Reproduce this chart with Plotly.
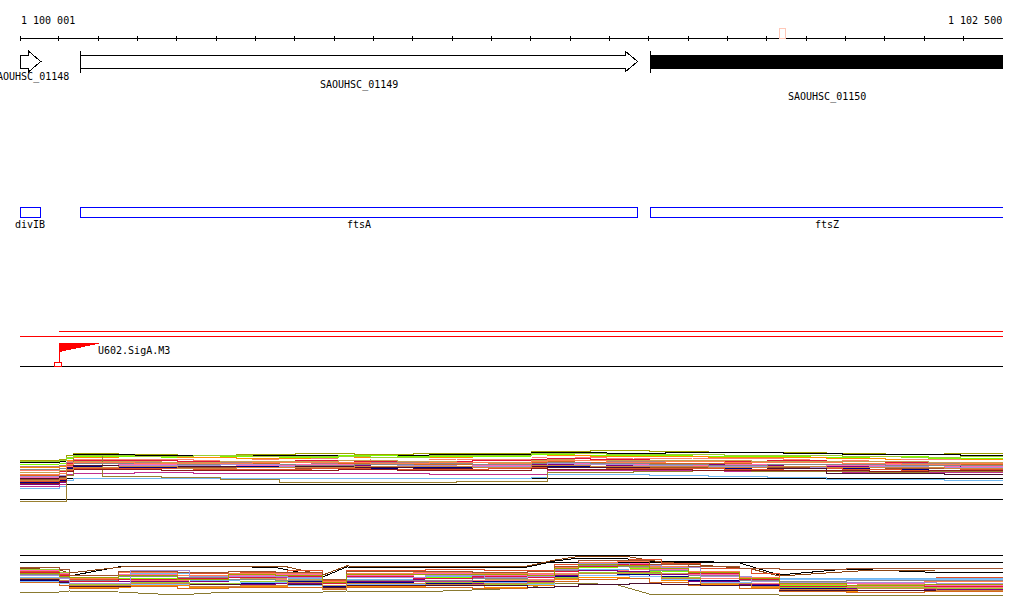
import plotly.graph_objects as go

# ---------------- data ----------------
WINDOW_START = 1100001
WINDOW_END = 1102500
RULER_STEP = 100
RULER_LABELS = ["1 100 001", "1 102 500"]

GENE_NAMES = ["SAOUHSC_01148", "SAOUHSC_01149", "SAOUHSC_01150"]
GENE_STARTS = [1099960, 1100156, 1101603]
GENE_ENDS = [1100054, 1101571, 1103300]

FEATURE_NAMES = ["divIB", "ftsA", "ftsZ"]
FEATURE_STARTS = [1099960, 1100156, 1101603]
FEATURE_ENDS = [1100054, 1101571, 1103300]

PROMOTER_NAME = "U602.SigA.M3"
PROMOTER_POS = 1100101
MARKER_START = 1101933
MARKER_END = 1101948

# expression track 1 (offsets from window start)
T1_POS_A = [0, 100, 118, 135, 250, 400, 550, 700, 850, 1000, 1150, 1300, 1340, 1450, 1600, 1750, 1900, 2050, 2200, 2350, 2499]
T1_POS_B = [0, 100, 118, 135, 290, 440, 590, 740, 890, 1040, 1190, 1300, 1340, 1490, 1640, 1790, 1940, 2090, 2240, 2390, 2499]
T1_POS_C = [0, 100, 118, 135, 210, 360, 510, 660, 810, 960, 1110, 1300, 1340, 1410, 1560, 1710, 1860, 2010, 2160, 2310, 2499]
T1_REF_LEVELS = [5.4, 4.2, 1.2]
T1_VALUES = [
    [9.0, 9.2, 10.0, 10.4, 10.2, 10.0, 10.2, 10.3, 10.2, 10.3, 10.4, 10.8, 10.8, 10.9, 10.7, 10.6, 10.5, 10.3, 10.2, 10.4, 10.4],
    [8.6, 8.8, 9.6, 10.2, 10.0, 10.0, 9.9, 10.0, 10.0, 10.1, 10.2, 10.6, 10.6, 10.4, 10.5, 10.6, 10.4, 10.1, 10.2, 10.0, 10.0],
    [8.2, 8.4, 9.3, 9.8, 9.7, 9.6, 9.8, 9.6, 9.9, 9.7, 9.8, 10.2, 10.1, 10.0, 9.9, 9.8, 9.7, 9.6, 9.8, 9.3, 9.4],
    [7.5, 7.8, 9.0, 9.5, 9.4, 9.5, 9.3, 9.4, 9.6, 9.5, 9.4, 9.8, 9.9, 9.7, 9.8, 9.6, 9.5, 9.4, 9.2, 9.1, 9.1],
    [7.0, 7.4, 8.8, 9.2, 9.1, 9.0, 9.2, 9.3, 9.0, 9.2, 9.1, 9.5, 9.6, 9.4, 9.3, 9.4, 9.2, 9.0, 9.1, 8.9, 8.8],
    [8.0, 8.1, 9.1, 9.3, 9.4, 9.3, 9.0, 9.1, 9.3, 9.0, 9.3, 9.7, 9.6, 9.2, 9.5, 9.2, 9.0, 9.2, 8.9, 9.0, 9.0],
    [6.5, 6.8, 8.4, 9.0, 8.9, 8.7, 8.8, 9.0, 8.7, 8.8, 8.9, 9.2, 9.3, 9.1, 9.0, 8.8, 8.9, 8.7, 8.6, 8.5, 8.6],
    [7.8, 8.0, 8.6, 8.8, 8.6, 8.5, 8.6, 8.4, 8.5, 8.6, 8.4, 8.9, 9.0, 8.8, 8.7, 8.6, 8.5, 8.4, 8.3, 8.2, 8.4],
    [6.0, 6.3, 8.0, 8.6, 8.4, 8.2, 8.3, 8.2, 8.4, 8.1, 8.2, 8.6, 8.7, 8.5, 8.4, 8.3, 8.1, 8.2, 8.0, 8.1, 8.0],
    [5.6, 5.9, 7.8, 8.3, 8.2, 8.4, 8.0, 8.1, 8.2, 8.3, 8.0, 8.4, 8.4, 8.2, 8.0, 8.1, 8.2, 7.9, 8.1, 7.8, 7.7],
    [4.2, 4.6, 7.2, 8.0, 7.9, 7.8, 7.7, 7.9, 7.8, 7.6, 7.8, 8.1, 8.2, 8.0, 8.1, 7.9, 7.8, 7.7, 7.6, 7.9, 7.9],
    [4.6, 5.0, 7.4, 7.7, 7.6, 7.5, 7.8, 7.6, 7.3, 7.5, 7.6, 7.9, 7.8, 7.7, 7.6, 7.4, 7.5, 7.3, 7.2, 7.0, 6.9],
    [5.2, 5.5, 7.6, 8.0, 7.8, 7.6, 7.5, 7.4, 7.6, 7.7, 7.5, 7.8, 7.9, 7.6, 7.5, 7.7, 7.6, 7.5, 7.4, 7.5, 7.4],
    [4.8, 5.2, 7.0, 7.4, 7.3, 7.2, 7.1, 7.3, 7.2, 7.1, 7.3, 7.6, 7.5, 7.4, 7.3, 7.2, 7.3, 7.1, 7.0, 7.2, 7.2],
    [6.6, 7.0, 8.2, 8.7, 8.8, 8.6, 8.7, 8.8, 8.9, 8.7, 8.6, 9.0, 9.1, 9.0, 8.9, 9.0, 8.8, 8.7, 8.8, 8.6, 8.5],
    [3.4, 3.8, 5.0, 5.3, 5.4, 5.4, 5.4, 5.4, 5.4, 5.4, 5.4, 5.5, 6.1, 6.1, 6.0, 5.8, 5.5, 5.1, 5.1, 4.9, 4.9],
    [3.8, 4.2, 6.2, 6.4, 6.5, 6.4, 6.3, 6.4, 6.3, 6.2, 6.1, 6.2, 6.9, 7.0, 7.0, 6.8, 6.8, 6.6, 6.6, 6.6, 6.6],
    [0.8, 0.8, 6.0, 10.0, 5.8, 5.6, 5.2, 4.6, 4.5, 4.6, 4.7, 4.8, 6.6, 6.5, 6.8, 7.0, 6.8, 6.8, 6.6, 6.7, 6.7],
    [7.2, 7.4, 8.2, 8.4, 8.3, 8.1, 8.2, 8.0, 8.1, 8.3, 8.1, 8.4, 8.5, 8.3, 8.2, 8.0, 8.2, 8.1, 7.9, 8.0, 8.0],
    [8.8, 9.0, 9.6, 10.0, 9.8, 9.9, 9.7, 9.8, 9.6, 9.9, 10.0, 10.3, 10.4, 10.2, 10.1, 10.0, 9.9, 9.8, 9.6, 9.7, 9.7],
    [5.8, 6.0, 7.6, 7.9, 8.0, 7.9, 8.1, 7.8, 7.7, 7.9, 7.7, 8.0, 8.3, 8.1, 7.9, 7.8, 7.7, 7.5, 7.7, 7.6, 7.6],
    [5.4, 5.8, 7.5, 7.9, 7.7, 7.8, 7.6, 7.7, 7.5, 7.4, 7.5, 7.7, 7.6, 7.5, 7.7, 7.5, 7.4, 6.4, 6.4, 6.2, 6.3],
    [6.2, 6.4, 8.2, 8.5, 8.4, 8.3, 8.5, 8.6, 8.4, 8.5, 8.4, 8.8, 8.9, 8.6, 8.7, 8.5, 8.6, 8.4, 8.2, 8.4, 8.3],
    [4.4, 4.8, 6.8, 7.2, 7.1, 7.0, 6.9, 7.0, 7.2, 7.0, 6.9, 7.3, 7.2, 7.1, 7.2, 7.0, 6.9, 7.0, 6.8, 6.9, 6.9],
    [5.0, 5.3, 7.1, 7.5, 7.7, 7.4, 7.6, 7.5, 7.7, 7.8, 7.6, 7.9, 8.0, 7.8, 7.8, 7.6, 7.7, 7.6, 7.5, 7.3, 7.3],
]

# expression track 2 (offsets from window start)
T2_POS_A = [0, 100, 125, 250, 400, 530, 650, 770, 830, 1000, 1150, 1290, 1360, 1420, 1520, 1600, 1700, 1830, 1930, 2100, 2300, 2499]
T2_POS_B = [0, 100, 125, 280, 430, 560, 680, 770, 830, 1030, 1180, 1290, 1360, 1420, 1550, 1630, 1730, 1860, 1930, 2130, 2330, 2499]
T2_REF_LEVELS = [10.0, 8.6]
T2_VALUES = [
    [6.8, 6.0, 5.8, 7.6, 7.6, 7.7, 7.5, 5.6, 7.6, 7.5, 7.4, 7.6, 8.8, 9.4, 9.4, 8.8, 8.8, 8.4, 6.0, 7.2, 6.6, 6.6],
    [7.4, 7.0, 6.4, 7.8, 7.8, 7.8, 7.6, 6.0, 7.8, 7.7, 7.6, 7.8, 9.0, 9.7, 9.6, 8.6, 8.0, 7.2, 5.8, 6.8, 7.0, 7.0],
    [2.6, 2.6, 2.8, 2.6, 2.0, 2.6, 2.6, 2.6, 2.8, 2.6, 3.0, 3.4, 4.4, 4.4, 4.0, 2.2, 2.2, 2.2, 2.0, 2.0, 2.0, 2.0],
    [6.8, 6.2, 5.2, 7.0, 6.4, 6.6, 7.0, 5.0, 7.0, 7.2, 7.0, 7.0, 8.2, 9.0, 9.2, 8.4, 7.4, 6.4, 5.2, 5.4, 5.6, 5.6],
    [6.2, 5.4, 4.8, 5.4, 5.0, 5.6, 5.4, 4.2, 5.2, 5.6, 5.2, 5.6, 6.6, 7.6, 7.4, 6.8, 5.6, 4.6, 4.0, 3.8, 4.0, 4.0],
    [5.0, 4.4, 3.6, 4.0, 3.6, 3.8, 4.0, 3.2, 3.8, 4.0, 3.6, 4.0, 5.2, 5.6, 5.8, 5.0, 4.2, 3.6, 2.8, 3.0, 2.8, 2.8],
    [6.6, 5.8, 5.0, 5.8, 5.2, 5.0, 5.6, 4.6, 5.6, 4.8, 5.6, 5.2, 6.4, 7.8, 8.0, 7.0, 6.2, 5.0, 4.4, 4.6, 4.2, 4.2],
    [5.6, 5.2, 4.6, 6.4, 5.0, 5.8, 5.4, 4.4, 5.2, 5.8, 5.4, 5.4, 6.8, 7.2, 7.0, 6.2, 5.8, 5.2, 5.4, 5.4, 5.4, 5.4],
    [5.0, 4.4, 4.2, 4.6, 4.4, 4.4, 4.8, 3.8, 4.6, 4.4, 4.8, 4.6, 5.8, 6.4, 6.2, 5.8, 5.0, 4.0, 3.4, 3.6, 3.6, 3.6],
    [6.0, 5.6, 4.4, 5.0, 4.6, 5.2, 5.0, 4.0, 5.4, 5.0, 5.0, 5.2, 6.4, 7.0, 7.2, 6.6, 5.4, 4.4, 3.8, 3.8, 3.6, 3.6],
    [5.4, 4.8, 4.0, 4.8, 4.8, 4.2, 4.4, 3.6, 4.8, 5.2, 4.4, 4.8, 6.0, 7.0, 6.8, 6.2, 4.8, 4.2, 3.2, 3.4, 3.2, 3.2],
    [5.8, 5.0, 4.4, 5.2, 4.4, 5.4, 5.2, 4.0, 5.0, 5.4, 5.2, 5.0, 6.2, 7.4, 7.6, 6.4, 5.6, 4.8, 3.6, 4.2, 4.4, 4.4],
    [4.6, 4.0, 3.4, 3.8, 3.4, 3.6, 3.6, 3.2, 3.6, 3.6, 3.4, 3.6, 4.8, 5.2, 5.4, 4.6, 4.0, 3.4, 2.8, 2.6, 2.8, 2.8],
    [5.8, 5.2, 4.6, 5.6, 4.6, 5.0, 5.8, 4.2, 5.4, 5.2, 5.8, 5.4, 6.6, 7.4, 7.0, 6.6, 5.6, 4.6, 4.6, 4.8, 4.6, 4.6],
    [7.0, 6.4, 5.6, 6.2, 5.6, 6.0, 6.2, 4.8, 6.0, 6.4, 6.0, 6.2, 7.2, 8.2, 8.4, 7.2, 6.2, 5.2, 4.2, 4.4, 4.0, 4.0],
    [7.2, 6.6, 4.2, 4.6, 4.4, 4.8, 4.2, 3.6, 4.4, 4.6, 4.2, 4.4, 5.6, 6.6, 6.4, 5.6, 4.6, 3.8, 3.6, 3.6, 3.4, 3.4],
    [6.4, 5.8, 5.4, 6.6, 6.0, 6.4, 6.4, 4.8, 6.4, 6.6, 6.4, 6.4, 7.6, 8.6, 8.8, 7.8, 6.8, 5.6, 4.2, 4.6, 4.8, 4.8],
    [4.8, 4.4, 3.8, 4.2, 3.8, 4.6, 4.0, 3.4, 4.2, 4.2, 4.6, 4.2, 5.4, 6.0, 5.8, 5.2, 4.6, 5.0, 5.2, 5.2, 5.2, 5.2],
    [6.2, 5.6, 5.0, 5.8, 5.6, 5.2, 5.0, 4.4, 5.0, 5.0, 5.4, 5.8, 7.0, 8.0, 7.8, 7.0, 6.0, 5.0, 4.8, 5.0, 5.0, 5.0],
    [5.2, 4.6, 3.8, 4.4, 4.2, 4.0, 4.2, 3.6, 4.0, 4.0, 4.0, 3.6, 3.8, 4.2, 4.4, 4.2, 4.0, 3.8, 3.0, 3.0, 3.0, 3.0],
    [6.6, 6.0, 4.8, 5.2, 5.4, 5.6, 5.8, 4.4, 5.8, 5.4, 5.8, 5.6, 6.8, 7.8, 8.2, 7.4, 6.4, 5.2, 3.8, 4.0, 3.8, 3.8],
    [5.4, 5.0, 4.0, 4.4, 3.8, 4.0, 4.6, 3.4, 4.4, 4.2, 4.4, 4.6, 5.4, 6.4, 6.6, 5.4, 4.4, 3.8, 3.2, 3.4, 3.0, 3.0],
    [7.6, 7.2, 6.0, 6.8, 6.6, 6.8, 6.6, 5.2, 6.8, 6.8, 6.6, 6.8, 7.8, 9.0, 9.0, 8.2, 7.8, 7.4, 7.2, 7.4, 7.4, 7.4],
    [6.0, 5.4, 4.4, 7.0, 5.8, 5.8, 5.6, 4.6, 5.6, 6.0, 5.6, 5.8, 7.2, 8.4, 8.0, 7.6, 5.8, 4.8, 4.6, 4.6, 4.4, 4.4],
    [6.4, 5.8, 5.6, 6.0, 5.2, 6.2, 6.0, 4.6, 6.2, 6.2, 6.2, 6.0, 7.4, 8.2, 8.0, 7.4, 6.6, 5.4, 4.4, 4.0, 4.2, 4.2],
]

# ---------------- style ----------------
W, H = 1024, 611
ML, MR = 20, 21
PX_PER_BP = (W - ML - MR) / (WINDOW_END - WINDOW_START)
FONT = dict(family="DejaVu Sans Mono, monospace", size=10, color="black")

T1_COLORS = ["#a0a000", "#000000", "#7cfc00", "#ff8c00", "#fa8072", "#ffffff", "#dc143c",
             "#b08080", "#d2691e", "#ff69b4", "#800080", "#000080", "#a0522d", "#e0502a",
             "#c8a050", "#70b8f0", "#c03090", "#9a8030", "#888888", "#9acd32", "#a890d8",
             "#4a1030", "#ff7f50", "#8b1a1a", "#cd853f"]
T2_COLORS = ["#000000", "#8b4513", "#8a7a30", "#e0502a", "#7cfc00", "#ff8c00", "#c03090",
             "#70b8f0", "#000080", "#fa8072", "#800080", "#c8a050", "#d2691e", "#ffffff",
             "#ff69b4", "#9acd32", "#ff7f50", "#80c0ff", "#888888", "#4a1030", "#dc143c",
             "#cd853f", "#a0522d", "#a890d8", "#a0a000"]
T2_SMOOTH = {0, 1, 2}
GENE_FILLED = [False, False, True]
GENE_LABEL_Y = [76.5, 85, 97]


def px(n):
    return n / PX_PER_BP


fig = go.Figure()
shapes = []
annotations = []


def line(x0, x1, y0, y1, color="black", width=1):
    shapes.append(dict(type="line", xref="x", yref="y", x0=x0, x1=x1, y0=y0, y1=y1,
                       line=dict(color=color, width=width)))


def label(x, y, text, anchor="center", xref="x"):
    annotations.append(dict(xref=xref, yref="y", x=x, y=y, text=text, showarrow=False,
                            xanchor=anchor, yanchor="middle", font=FONT, borderpad=0))


# ruler
line(WINDOW_START, WINDOW_END, 38.5, 38.5)
ticks = [WINDOW_START] + list(range((WINDOW_START // RULER_STEP + 1) * RULER_STEP, WINDOW_END, RULER_STEP)) + [WINDOW_END]
for t in ticks:
    line(t, t, 36, 41)
label(0, 20, RULER_LABELS[0], "left", xref="paper")
label(1, 20, RULER_LABELS[1], "right", xref="paper")
shapes.append(dict(type="rect", xref="x", yref="y", x0=MARKER_START, x1=MARKER_END, y0=28.5, y1=38.5,
                   line=dict(color="#ffc8b8", width=1), fillcolor="rgba(0,0,0,0)"))

# genes
HEAD = px(12.5)
for i, name in enumerate(GENE_NAMES):
    x0 = max(GENE_STARTS[i], WINDOW_START)
    x1 = min(GENE_ENDS[i], WINDOW_END)
    has_head = GENE_ENDS[i] <= WINDOW_END
    fill = "black" if GENE_FILLED[i] else "white"
    if has_head:
        xh = x1 - HEAD
        path = (f"M {x0},55.5 L {xh},55.5 L {xh},51 L {x1},61.5 L {xh},72 L {xh},68.5 "
                f"L {x0},68.5 Z")
    else:
        path = f"M {x0},55.5 L {x1},55.5 L {x1},68.5 L {x0},68.5 Z"
    shapes.append(dict(type="path", xref="x", yref="y", path=path, fillcolor=fill,
                       line=dict(color="black", width=1)))
    if GENE_STARTS[i] >= WINDOW_START:
        line(GENE_STARTS[i], GENE_STARTS[i], 51, 72.5)
    label((x0 + x1) / 2, GENE_LABEL_Y[i], name)

# features
for i, name in enumerate(FEATURE_NAMES):
    x0 = max(FEATURE_STARTS[i], WINDOW_START)
    x1 = min(FEATURE_ENDS[i], WINDOW_END)
    shapes.append(dict(type="rect", xref="x", yref="y", x0=x0, x1=x1, y0=207.5, y1=217.5,
                       line=dict(color="#0000ff", width=1), fillcolor="rgba(0,0,0,0)"))
    label((x0 + x1) / 2, 224, name)

# promoter track
line(PROMOTER_POS, WINDOW_END, 331.5, 331.5, "#ff0000")
line(WINDOW_START, WINDOW_END, 336.5, 336.5, "#ff0000")
line(WINDOW_START, WINDOW_END, 366.5, 366.5, "black")
shapes.append(dict(type="path", xref="x", yref="y",
                   path=f"M {PROMOTER_POS},343 L {PROMOTER_POS + px(40)},343 L {PROMOTER_POS},351.5 Z",
                   fillcolor="#ff0000", line=dict(color="#ff0000", width=1)))
line(PROMOTER_POS, PROMOTER_POS, 343, 363, "#ff0000")
shapes.append(dict(type="rect", xref="x", yref="y", x0=PROMOTER_POS - px(4.5), x1=PROMOTER_POS + px(2),
                   y0=362.5, y1=366.5, line=dict(color="#ff0000", width=1), fillcolor="rgba(0,0,0,0)"))
label(PROMOTER_POS + px(38), 350, PROMOTER_NAME, "left")

# expression track 1
for lv in T1_REF_LEVELS:
    fig.add_trace(go.Scatter(x=[WINDOW_START, WINDOW_END], y=[lv, lv], mode="lines", yaxis="y2",
                             line=dict(color="black", width=1), hoverinfo="skip", showlegend=False))
grids1 = [T1_POS_A, T1_POS_B, T1_POS_C]
for i, vals in enumerate(T1_VALUES):
    g = grids1[i % 3]
    fig.add_trace(go.Scatter(x=[WINDOW_START + o for o in g], y=vals, mode="lines", yaxis="y2",
                             line=dict(color=T1_COLORS[i], width=1, shape="hv"),
                             hoverinfo="skip", showlegend=False))

# expression track 2
for lv in T2_REF_LEVELS:
    fig.add_trace(go.Scatter(x=[WINDOW_START, WINDOW_END], y=[lv, lv], mode="lines", yaxis="y3",
                             line=dict(color="black", width=1), hoverinfo="skip", showlegend=False))
grids2 = [T2_POS_A, T2_POS_B]
for i, vals in enumerate(T2_VALUES):
    g = grids2[i % 2]
    fig.add_trace(go.Scatter(x=[WINDOW_START + o for o in g], y=vals, mode="lines", yaxis="y3",
                             line=dict(color=T2_COLORS[i], width=1,
                                       shape="linear" if i in T2_SMOOTH else "hv"),
                             hoverinfo="skip", showlegend=False))


def dom(top_px, bottom_px):
    return [1 - bottom_px / H, 1 - top_px / H]


fig.update_layout(
    width=W, height=H,
    margin=dict(l=ML, r=MR, t=0, b=0),
    paper_bgcolor="white", plot_bgcolor="rgba(0,0,0,0)",
    showlegend=False,
    xaxis=dict(range=[WINDOW_START, WINDOW_END], visible=False, anchor="y", domain=[0, 1]),
    yaxis=dict(range=[H, 0], domain=[0, 1], visible=False),
    yaxis2=dict(range=[0, 13], domain=dom(440, 505), visible=False, anchor="x"),
    yaxis3=dict(range=[0, 12], domain=dom(545, 605), visible=False, anchor="x"),
    shapes=shapes,
    annotations=annotations,
    hovermode=False,
)

POST = ("document.body.style.margin='0';document.body.style.padding='0';"
        "var s=document.querySelectorAll('.main-svg');"
        "for(var i=0;i<s.length;i++){s[i].setAttribute('shape-rendering','crispEdges');}")

fig.write_html("out.html", post_script=POST, config={"displayModeBar": False})
